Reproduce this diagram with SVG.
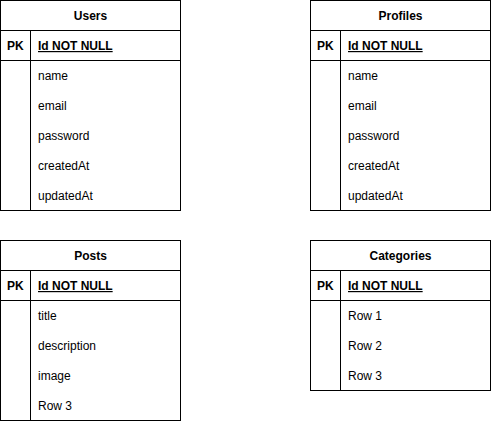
<svg xmlns="http://www.w3.org/2000/svg" width="492" height="421" viewBox="0 0 492 421">
<style>
.box{fill:#fff;stroke:#000;stroke-width:1}
.ln{stroke:#000;stroke-width:1;fill:none}
text{font-family:"Liberation Sans",Arial,sans-serif;font-size:12px;fill:#000}
.h{font-weight:bold;text-anchor:middle}
.pk{font-weight:bold}
.id{font-weight:bold;text-decoration:underline}
</style>
<rect width="492" height="421" fill="#fff"/>
<g id="users">
<rect class="box" x="0.5" y="0.5" width="180" height="210"/>
<path class="ln" d="M0.5 30.5H180.5M0.5 60.5H180.5M30.5 30.5V210.5"/>
<text class="h" x="90.5" y="20">Users</text>
<text class="pk" x="7" y="50">PK</text>
<text class="id" x="38" y="50">Id NOT NULL</text>
<text x="38" y="80">name</text>
<text x="38" y="110">email</text>
<text x="38" y="140">password</text>
<text x="38" y="170">createdAt</text>
<text x="38" y="200">updatedAt</text>
</g>
<g id="profiles">
<rect class="box" x="310.5" y="0.5" width="180" height="210"/>
<path class="ln" d="M310.5 30.5H490.5M310.5 60.5H490.5M340.5 30.5V210.5"/>
<text class="h" x="400.5" y="20">Profiles</text>
<text class="pk" x="317" y="50">PK</text>
<text class="id" x="348" y="50">Id NOT NULL</text>
<text x="348" y="80">name</text>
<text x="348" y="110">email</text>
<text x="348" y="140">password</text>
<text x="348" y="170">createdAt</text>
<text x="348" y="200">updatedAt</text>
</g>
<g id="posts">
<rect class="box" x="0.5" y="240.5" width="180" height="180"/>
<path class="ln" d="M0.5 270.5H180.5M0.5 300.5H180.5M30.5 270.5V420.5"/>
<text class="h" x="90.5" y="260">Posts</text>
<text class="pk" x="7" y="290">PK</text>
<text class="id" x="38" y="290">Id NOT NULL</text>
<text x="38" y="320">title</text>
<text x="38" y="350">description</text>
<text x="38" y="380">image</text>
<text x="38" y="410">Row 3</text>
</g>
<g id="categories">
<rect class="box" x="310.5" y="240.5" width="180" height="150"/>
<path class="ln" d="M310.5 270.5H490.5M310.5 300.5H490.5M340.5 270.5V390.5"/>
<text class="h" x="400.5" y="260">Categories</text>
<text class="pk" x="317" y="290">PK</text>
<text class="id" x="348" y="290">Id NOT NULL</text>
<text x="348" y="320">Row 1</text>
<text x="348" y="350">Row 2</text>
<text x="348" y="380">Row 3</text>
</g>
<g id="connectors"></g>
</svg>
